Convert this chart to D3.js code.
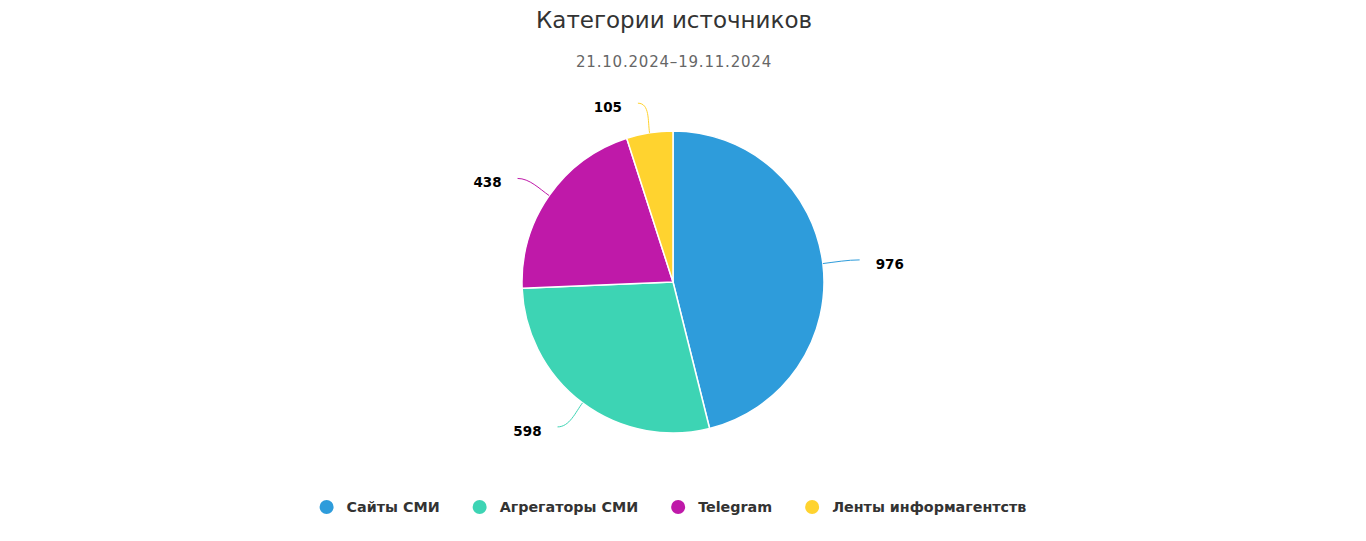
<!DOCTYPE html>
<html><head><meta charset="utf-8">
<script src="https://cdn.jsdelivr.net/npm/d3@7/dist/d3.min.js"></script>
<style>
body{margin:0;background:#fff;}
svg{display:block;font-family:"DejaVu Sans",Verdana,sans-serif;}
</style></head>
<body><svg id="c" width="1366" height="541"></svg>
<script>
const categories = ["Сайты СМИ","Агрегаторы СМИ","Telegram","Ленты информагентств"];
const values = [976,598,438,105];
const colors = ["#2e9cdb","#3dd4b4","#bf19a9","#ffd32f"];
const titleText = "Категории источников";
const subtitleText = "21.10.2024–19.11.2024";

const svg = d3.select("#c");
const W = 1366, cx = 673, cy = 282, r = 151;

svg.append("text").attr("x", W/2 - 9).attr("y", 28).attr("text-anchor","middle")
  .attr("font-size", 23).attr("fill","#333").text(titleText);
svg.append("text").attr("x", W/2 - 9).attr("y", 67).attr("text-anchor","middle")
  .attr("font-size", 15).attr("letter-spacing", 0.8).attr("fill","#666").text(subtitleText);

const data = categories.map((c,i)=>({name:c, value:values[i], color:colors[i]}));
const pie = d3.pie().value(d=>d.value).sort(null);
const arcs = pie(data);
const arc = d3.arc().innerRadius(0).outerRadius(r);
const g = svg.append("g").attr("transform",`translate(${cx},${cy})`);
g.selectAll("path.slice").data(arcs).enter().append("path")
  .attr("class","slice").attr("d",arc).attr("fill",d=>d.data.color)
  .attr("stroke","#fff").attr("stroke-width",1.5).attr("stroke-linejoin","round");

// labels with soft connectors
arcs.forEach(a=>{
  const m = (a.startAngle+a.endAngle)/2;
  const sx = Math.sin(m), sy = -Math.cos(m);
  const dir = sx >= 0 ? 1 : -1;
  const E = [sx*r, sy*r];
  const R = r + 30;
  const L = [sx*R + dir*7, sy*R];
  const c1 = [sx*(r+12), sy*(r+12)];
  const c2 = [L[0] - dir*12, L[1]];
  g.append("path").attr("d",`M${E[0]},${E[1]}C${c1[0]},${c1[1]} ${c2[0]},${c2[1]} ${L[0]},${L[1]}`)
    .attr("fill","none").attr("stroke",a.data.color).attr("stroke-width",1);
  g.append("text").attr("x", L[0] + dir*16).attr("y", L[1]+9)
    .attr("text-anchor", dir>0?"start":"end").attr("font-size",13.5).attr("font-weight","bold")
    .attr("fill","#000").attr("stroke","#fff").attr("stroke-width",2).attr("paint-order","stroke")
    .text(a.data.value);
});

// legend
const lg = svg.append("g");
let x = 0;
data.forEach((d,i)=>{
  const it = lg.append("g");
  it.append("circle").attr("cx",7).attr("cy",0).attr("r",7).attr("fill",d.color);
  const t = it.append("text").attr("x",27).attr("y",5).attr("font-size",14.3).attr("font-weight","bold")
    .attr("fill","#333").text(d.name);
  const w = 27 + t.node().getComputedTextLength();
  it.attr("transform",`translate(${x},507)`);
  x += w + 33;
});
const total = x - 33;
lg.attr("transform",`translate(${(W-total)/2 - 10},0)`);
</script></body></html>
